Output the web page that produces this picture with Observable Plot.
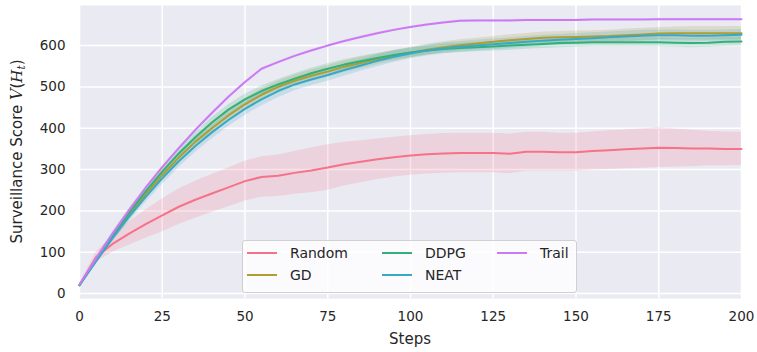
<!DOCTYPE html>
<html>
<head>
<meta charset="utf-8">
<script src="https://cdn.jsdelivr.net/npm/d3@7"></script>
<script src="https://cdn.jsdelivr.net/npm/@observablehq/plot@0.6"></script>
<style>
  html, body { margin: 0; padding: 0; background: #ffffff; }
  #chart { position: relative; width: 757px; height: 352px; }
  #legend { position: absolute; left: 242px; top: 240px; width: 333px; height: 51px;
            background: rgba(255,255,255,0.8); border: 1px solid #d0d0d0; border-radius: 3px;
            font-family: "DejaVu Sans", sans-serif; font-size: 14px; color: #262626; }
  .item { position: absolute; height: 16px; line-height: 16px; white-space: nowrap; }
  .swatch { position: absolute; left: 0; top: 7px; width: 30px; height: 2px; }
  .lbl { position: absolute; left: 43px; top: 0; }
</style>
</head>
<body>
<div id="chart"></div>
<script>
const steps = [0,5,10,15,20,25,30,35,40,45,50,55,60,65,70,75,80,85,90,95,100,105,110,115,120,125,130,135,140,145,150,155,160,165,170,175,180,185,190,195,200];

const seriesNames = ["Random", "GD", "DDPG", "NEAT", "Trail"];
const seriesColors = ["#f77189", "#ae9d31", "#33b07a", "#38a9c5", "#cc7af4"];

const randomMean = [20,88,120,145,168,189,210,227,242,257,272,282,285,292,298,305,313,319,325,330,334,337,339,340,340,340,338,343,343,342,342,345,347,349,351,353,352,351,351,350,350];
const randomCI   = [3,12,20,28,34,40,43,45,46,47,48,49,50,52,54,55,53,51,49,48,48,48,48,48,48,48,48,47,47,46,46,46,47,47,48,48,46,44,42,41,40];

const gdMean = [20,80,137,190,240,287,329,367,400,431,458,481,500,515,527,537,549,558,567,575,583,590,596,601,605,609,613,616,619,620,621,622,623,625,627,629,630,630,630,630,630];
const gdCI   = [2,6,9,11,12,12,13,13,14,14,14,14,14,14,14,14,14,14,13,13,13,13,13,13,13,13,13,13,14,14,14,14,14,15,15,15,15,16,16,16,16];

const ddpgMean = [20,82,141,196,247,295,339,378,414,445,470,490,506,520,533,544,554,562,570,577,583,588,592,594,596,598,600,602,604,606,607,608,608,608,608,608,607,606,607,609,610];
const ddpgCI   = [2,6,8,10,11,11,12,12,12,12,12,12,12,12,12,12,12,12,11,11,11,11,11,11,11,11,11,11,11,11,11,11,11,11,11,11,11,11,11,11,11];

const neatMean = [20,78,134,186,234,279,320,357,390,420,447,470,490,506,518,529,541,552,563,573,581,588,593,597,600,603,606,609,612,614,616,618,620,622,624,625,625,624,624,625,626];
const neatCI   = [2,7,10,12,14,15,15,16,16,16,16,16,16,15,15,15,15,14,14,14,13,13,13,13,13,13,13,13,13,13,13,13,13,13,13,13,13,13,13,13,13];

const trailMean = [22,85,145,202,256,306,352,396,437,476,512,544,560,575,588,600,611,621,630,638,645,651,656,660,661,661,661,662,662,662,662,663,663,663,663,664,664,664,664,664,664];
const trailCI   = [1,2,2,2,2,2,2,2,2,2,2,2,2,2,2,2,2,2,2,2,2,2,2,2,2,2,2,2,2,2,2,2,2,2,2,2,2,2,2,2,2];

const xTicks = [0,25,50,75,100,125,150,175,200];
const yTicks = [0,100,200,300,400,500,600];

const means = {Random: randomMean, GD: gdMean, DDPG: ddpgMean, NEAT: neatMean, Trail: trailMean};
const cis = {Random: randomCI, GD: gdCI, DDPG: ddpgCI, NEAT: neatCI, Trail: trailCI};

const rows = [];
for (const name of seriesNames) {
  steps.forEach((s, i) => {
    const m = means[name][i], c = cis[name][i];
    rows.push({series: name, step: s, value: m, lo: m - c, hi: m + c});
  });
}

const W = 757, H = 352;
const mL = 79, mR = 16, mT = 5, mB = 54;
const ink = "#262626";

const chart = Plot.plot({
  width: W, height: H,
  marginLeft: mL, marginRight: mR, marginTop: mT, marginBottom: mB,
  style: {background: "#ffffff", fontFamily: "DejaVu Sans, sans-serif", fontSize: "13.5px", color: ink},
  x: {domain: [0, 200]},
  y: {domain: [-12, 697]},
  color: {domain: seriesNames, range: seriesColors},
  marks: [
    Plot.frame({fill: "#eaeaf2", stroke: null}),
    Plot.gridX(xTicks, {stroke: "#ffffff", strokeOpacity: 1, strokeWidth: 1.5}),
    Plot.gridY(yTicks, {stroke: "#ffffff", strokeOpacity: 1, strokeWidth: 1.5}),
    Plot.areaY(rows, {x: "step", y1: "lo", y2: "hi", z: "series", fill: "series", fillOpacity: 0.2}),
    Plot.lineY(rows, {x: "step", y: "value", z: "series", stroke: "series", strokeWidth: 2}),
    Plot.axisX(xTicks, {tickSize: 0, tickPadding: 13, label: null, fill: ink}),
    Plot.axisY(yTicks, {tickSize: 0, tickPadding: 14, label: null, fill: ink})
  ]
});

const container = document.getElementById("chart");
container.appendChild(chart);

const svg = d3.select(chart);

// Axis titles
svg.append("text")
  .attr("x", (mL + (W - mR)) / 2).attr("y", 344)
  .attr("text-anchor", "middle")
  .attr("fill", ink)
  .style("font-family", "DejaVu Sans, sans-serif").style("font-size", "15px")
  .text("Steps");

const yl = svg.append("text")
  .attr("transform", `translate(22,${(mT + (H - mB)) / 2}) rotate(-90)`)
  .attr("text-anchor", "middle")
  .attr("fill", ink)
  .style("font-family", "DejaVu Sans, sans-serif").style("font-size", "15px");
yl.append("tspan").text("Surveillance Score ");
yl.append("tspan").style("font-family", "DejaVu Serif, serif").style("font-style", "italic").style("font-size", "16px").text("V");
yl.append("tspan").text("(");
yl.append("tspan").style("font-family", "DejaVu Serif, serif").style("font-style", "italic").text("H");
yl.append("tspan").attr("baseline-shift", "-25%").style("font-size", "10.5px").style("font-family", "DejaVu Serif, serif").style("font-style", "italic").text("t");
yl.append("tspan").text(")");

// Legend (HTML overlay)
const legend = document.createElement("div");
legend.id = "legend";
const legendPos = [
  {name: "Random", x: 4, y: 4},
  {name: "GD", x: 4, y: 26},
  {name: "DDPG", x: 139, y: 4},
  {name: "NEAT", x: 139, y: 26},
  {name: "Trail", x: 254, y: 4}
];
legendPos.forEach(p => {
  const col = seriesColors[seriesNames.indexOf(p.name)];
  const it = document.createElement("div");
  it.className = "item";
  it.style.left = p.x + "px";
  it.style.top = p.y + "px";
  const sw = document.createElement("div");
  sw.className = "swatch";
  sw.style.background = col;
  const lb = document.createElement("div");
  lb.className = "lbl";
  lb.textContent = p.name;
  it.appendChild(sw);
  it.appendChild(lb);
  legend.appendChild(it);
});
container.appendChild(legend);
</script>
</body>
</html>
